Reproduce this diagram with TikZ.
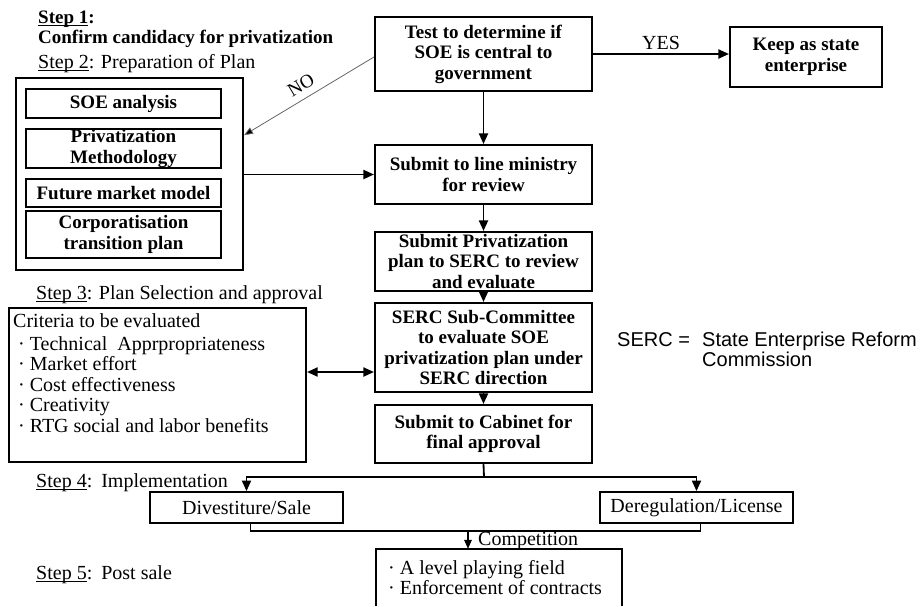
\documentclass[tikz,border=0pt]{standalone}
\usepackage{fontspec}
\setmainfont{Liberation Serif}
\newfontfamily\arialf{Liberation Sans}
\usetikzlibrary{arrows.meta,calc}
\newcommand\stepul[1]{\setbox0\hbox{#1}\rlap{\rule[-2.6pt]{\wd0}{1.1pt}}\box0}
\tikzset{
  box/.style={draw, line width=2.1pt, inner sep=0pt, align=center,
    font=\bfseries\fontsize{19}{20.5}\selectfont},
  flowbox/.style={box, minimum width=217pt},
  planitem/.style={draw, line width=2.1pt, inner sep=0pt, align=center, minimum width=195pt,
    font=\bfseries\fontsize{19}{21.5}\selectfont},
  lowbox/.style={draw, line width=1.8pt, inner sep=0pt, align=center, minimum width=193pt, minimum height=31pt,
    font=\fontsize{20}{21}\selectfont},
  arr/.style={line width=1.8pt, -{Triangle[length=10.5pt,width=9pt]}},
  thinarr/.style={line width=1.4pt, -{Triangle[length=9pt,width=7.5pt]}},
  lbl/.style={inner sep=0pt, anchor=base west, font=\fontsize{20}{21}\selectfont},
  blbl/.style={inner sep=0pt, anchor=base west, font=\bfseries\fontsize{19}{21}\selectfont},
  sanslbl/.style={inner sep=0pt, anchor=base west, font=\arialf\fontsize{20}{19}\selectfont},
}
\begin{document}
\begin{tikzpicture}[x=1pt,y=-1pt]
\useasboundingbox (0,0) rectangle (923,606);

% step labels
\node[blbl] (s1) at (38,23) {\stepul{Step 1}:};
\node[blbl] (s1t) at (38,43) {Confirm candidacy for privatization};
\node[lbl] (s2) at (38,68) {\stepul{Step 2}: Preparation of Plan};
\node[lbl] (s3) at (36,299) {\stepul{Step 3}: Plan Selection and approval};
\node[lbl] (s4) at (36,487) {\stepul{Step 4}:\hspace{9pt}Implementation};
\node[lbl] (s5) at (36,579) {\stepul{Step 5}:\hspace{9pt}Post sale};

% main flow
\node[flowbox, minimum height=74pt] (test) at (483.5,54) {Test to determine if\\SOE is central to\\government};
\node[box, minimum width=152pt, minimum height=60pt] (keep) at (806,57) {Keep as state\\enterprise};
\node[flowbox, minimum height=59pt] (lm) at (483.5,174.5) {Submit to line ministry\\for review};
\node[flowbox, minimum height=59pt] (sp) at (483.5,261.5) {Submit Privatization\\plan to SERC to review\\and evaluate};
\node[flowbox, minimum height=89pt] (serc) at (483.5,347.5) {SERC Sub-Committee\\to evaluate SOE\\privatization plan under\\SERC direction};
\node[flowbox, minimum height=58pt] (cab) at (483.5,434) {Submit to Cabinet for\\final approval};

% plan box
\node[draw, line width=2.1pt, minimum width=227pt, minimum height=192pt, inner sep=0pt] (plan) at (129.5,174) {};
\node[planitem, minimum height=29pt] (soe) at (123.5,103.5) {SOE analysis};
\node[planitem, minimum height=39pt] (meth) at (123.5,148.5) {Privatization\\Methodology};
\node[planitem, minimum height=28pt] (fut) at (123.5,193) {Future market model};
\node[planitem, minimum height=47pt] (corp) at (123.5,234.5) {Corporatisation\\transition plan};

% criteria box
\node[draw, line width=2.1pt, minimum width=297pt, minimum height=154pt, inner sep=0pt] (crit) at (157.5,385) {};
\node[lbl] (c0) at (13,327) {Criteria to be evaluated};
\node[lbl] (c1) at (18,350) {· Technical\ \ Apprpropriateness};
\node[lbl] (c2) at (18,370.5) {· Market effort};
\node[lbl] (c3) at (18,391) {· Cost effectiveness};
\node[lbl] (c4) at (18,411) {· Creativity};
\node[lbl] (c5) at (18,432) {· RTG social and labor benefits};

% legend
\node[sanslbl] (sercab) at (617,346) {SERC =};
\node[sanslbl] (sercdef) at (702,346) {State Enterprise Reform};
\node[sanslbl] (sercdef2) at (702,366.5) {Commission};

% bottom
\node[lowbox] (div) at (246.5,507.5) {Divestiture/Sale};
\node[lowbox] (dereg) at (696.5,507.5) {Deregulation/License};
\node[inner sep=0pt, minimum width=246pt, minimum height=57pt] (post) at (499,577.5) {};
\draw[line width=1.8pt] (post.south west) -- (post.north west) -- (post.north east) -- (post.south east);
\node[lbl] (p1) at (388,574) {· A level playing field};
\node[lbl] (p2) at (388,594) {· Enforcement of contracts};

% connectors
\draw[arr] (test.east) -- (test.east -| keep.west) node[midway, above=3pt, font=\fontsize{20}{21}\selectfont, inner sep=0pt] (yes) {YES};
\draw[arr] (test.south) -- (lm.north);
\draw[arr] (lm.south) -- (sp.north);
\draw[arr] (sp.south) -- (serc.north);
\draw[arr] (serc.south) -- (cab.north);
\draw[arr] (plan.east |- lm.west) -- (lm.west);
\coordinate (noend) at ($(plan.north east)!0.3!(plan.south east)$);
\coordinate (nostart) at ([yshift=-3pt]test.west);
\draw[line width=0.8pt, draw=black!60, -{Triangle[length=9pt,width=7pt,fill=black]}] (nostart) -- (noend);
\node[inner sep=0pt, rotate=31, font=\fontsize{19}{20}\selectfont] (no) at (301,85) {NO};
\coordinate (dx) at ([yshift=-24.5pt]serc.west);
\draw[line width=1.8pt, {Triangle[length=10.5pt,width=9pt]}-{Triangle[length=10.5pt,width=9pt]}] (crit.east |- dx) -- (dx);

\coordinate (split) at (484,477);
\draw[line width=1.8pt] (cab.south) -- (split);
\draw[arr] (split) -| (div.north);
\draw[arr] (split) -| (dereg.north);
\coordinate (jn) at (468,531);
\draw[line width=1.4pt] ([xshift=4pt]div.south) |- (jn) -| ([xshift=4pt]dereg.south);
\draw[thinarr] (jn) -- (jn |- post.north);
\node[lbl] (comp) at (478,545) {Competition};
\end{tikzpicture}
\end{document}
